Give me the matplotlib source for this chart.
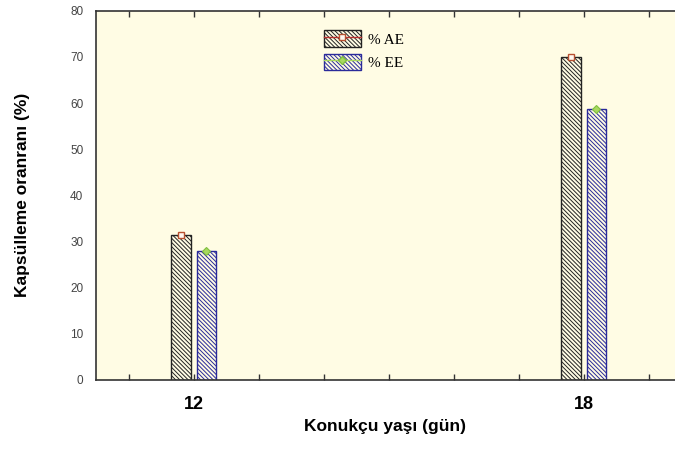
import matplotlib
matplotlib.use("Agg")
import matplotlib.pyplot as plt
from matplotlib.patches import Patch
from matplotlib.lines import Line2D
import numpy as np

ages = [12, 18]
ae_values = [31.5, 70.0]
ee_values = [28.0, 58.8]
series_names = ["% AE", "% EE"]
xlabel = "Konukçu yaşı (gün)"
ylabel = "Kapsülleme oranranı (%)"

plt.rcParams['hatch.linewidth'] = 0.7

fig = plt.figure(figsize=(6.75, 4.5), dpi=100)
ax = fig.add_axes([0.142, 0.156, 0.858, 0.82])
bg = "#FFFCE4"
ax.set_facecolor(bg)

x = np.array(ages, dtype=float)
w = 0.3
ae_x = x - 0.2
ee_x = x + 0.19
hatch = "\\\\\\\\\\\\\\\\"

b1 = ax.bar(ae_x, ae_values, width=w, facecolor=bg, edgecolor="#222222",
            hatch=hatch, linewidth=1.0, zorder=2)
b2 = ax.bar(ee_x, ee_values, width=w, facecolor=bg, edgecolor="#2A2A9A",
            hatch=hatch, linewidth=1.0, zorder=2)

ax.plot(ae_x, ae_values, linestyle="none", marker="s", markersize=5,
        markerfacecolor="#FFF8F0", markeredgecolor="#B85030", markeredgewidth=1.0, zorder=3)
ax.plot(ee_x, ee_values, linestyle="none", marker="D", markersize=4.5,
        markerfacecolor="#A8D860", markeredgecolor="#80C040", markeredgewidth=0.8, zorder=3)

ax.set_xlim(10.49, 19.4)
ax.set_ylim(0, 80)
ax.set_xticks(ages)
ax.set_xticklabels([str(a) for a in ages])
ax.set_xticks(np.arange(11, 20), minor=True)
ax.set_yticks(np.arange(0, 81, 10))

ax.tick_params(axis='x', which='both', direction='in', top=True, bottom=True, length=4,
               width=1, color='#333333')
ax.tick_params(axis='x', which='major', labelsize=13, pad=12)
for lab in ax.get_xticklabels():
    lab.set_fontweight('bold')
    lab.set_fontfamily('Liberation Sans')
ax.tick_params(axis='y', which='both', length=0, labelsize=8.5, labelcolor='#444444', pad=9)
for lab in ax.get_yticklabels():
    lab.set_fontfamily('Liberation Sans')

for s in ['left', 'bottom', 'top']:
    ax.spines[s].set_color('#333333')
    ax.spines[s].set_linewidth(1.2)
ax.spines['right'].set_visible(False)

ax.set_xlabel(xlabel, fontsize=12.5, fontweight='bold', family='Liberation Sans', labelpad=4)
ax.set_ylabel(ylabel, fontsize=12.5, fontweight='bold', family='Liberation Sans', labelpad=29)

h1 = (Patch(facecolor=bg, edgecolor="#222222", hatch=hatch),
      Line2D([], [], color="#B83030", lw=1.0, marker="s", markersize=4,
             markerfacecolor="#FFF8F0", markeredgecolor="#B85030"))
h2 = (Patch(facecolor=bg, edgecolor="#2A2A9A", hatch=hatch),
      Line2D([], [], color="#A8D860", lw=1.0, marker="D", markersize=4,
             markerfacecolor="#A8D860", markeredgecolor="#80C040"))
leg = ax.legend([h1, h2], series_names, loc='upper left', bbox_to_anchor=(0.37, 0.985),
                frameon=False, prop={'family': 'Liberation Serif', 'size': 11},
                handlelength=2.4, handleheight=1.3, labelspacing=0.45, handletextpad=0.5)

fig.savefig("out.png", dpi=100, facecolor="white")
